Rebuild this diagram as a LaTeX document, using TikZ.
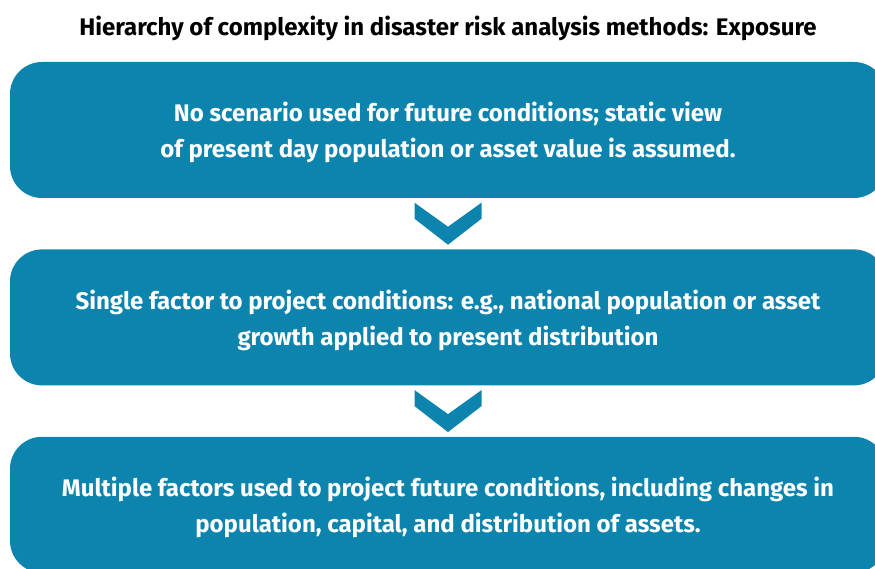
\documentclass[tikz,border=0pt]{standalone}
\usepackage{fontspec}
\setmainfont{Fira Sans}
\usepackage{xcolor}
\usepackage{tikz}
\usetikzlibrary{
    positioning,
    calc
}
\definecolor{expblue}{RGB}{12,132,173}
\tikzset{
  level/.style = {
      fill=expblue,
      rounded corners=32pt,
      minimum width=876pt,
      minimum height=136pt,
      inner sep=0pt,
      text=white,
      font=\bfseries\fontsize{24}{36}\selectfont,
      text depth=-3pt,
      align=center
  },
  heading/.style = {
      font=\bfseries\fontsize{24}{28}\selectfont
  },
  pics/chevron/.style = {
      code = {
        \fill[expblue] (-33.5,21) -- (-33.5,5) -- (0,-21) -- (33.5,5)
          -- (33.5,21) -- (0,-3) -- cycle;
      }
  }
}

\begin{document}
\begin{tikzpicture}[x=1pt, y=1pt]
    \useasboundingbox (0,0) rectangle (875,568);
    % Title
    \node[heading] (title) at (448,540)
      {Hierarchy of complexity in disaster risk analysis methods: Exposure};
    % Levels
    \node[level] (l1) at (448,438)
      {No scenario used for future conditions; static view\\
       of present day population or asset value is assumed.};
    \node[level, below=51pt of l1] (l2)
      {Single factor to project conditions: e.g., national population or asset\\
       growth applied to present distribution};
    \node[level, below=51pt of l2] (l3)
      {Multiple factors used to project future conditions, including changes in\\
       population, capital, and distribution of assets.};
    % Chevrons
    \pic at ($(l1.south)!0.5!(l2.north)$) {chevron};
    \pic at ($(l2.south)!0.5!(l3.north)$) {chevron};
\end{tikzpicture}
\end{document}
